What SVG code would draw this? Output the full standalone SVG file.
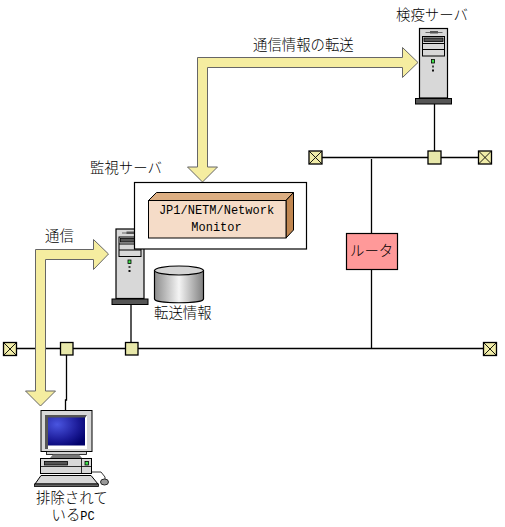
<svg xmlns="http://www.w3.org/2000/svg" width="505" height="527" viewBox="0 0 505 527">
<style>
.t{font-family:"Noto Sans CJK JP","Liberation Sans",sans-serif;font-size:14.4px;font-weight:300;fill:#000}
.m{font-family:"Liberation Mono",monospace;font-size:12px;fill:#000}
.w{fill:none;stroke:#000;stroke-width:1.3}
.nd{fill:#e8e8aa;stroke:#000;stroke-width:1.3}
.x{fill:#f0eca8;stroke:#000;stroke-width:1.3}
.x2{stroke:#000;stroke-width:.9;fill:none}
.arrow{fill:#f5eda0;stroke:#666;stroke-width:1;stroke-linejoin:miter}
</style>
<defs>
<g id="srv">
<rect x="0" y="0" width="28" height="69.5" fill="#d8d8d8" stroke="#000" stroke-width="1.2"/>
<rect x="-4" y="70" width="36" height="5.5" fill="#555" stroke="#000" stroke-width="1"/>
<path d="M6 4H23" stroke="#666" stroke-width="1"/><rect x="10.500" y="2.500" width="8" height="2.500" fill="#555"/>
<rect x="3" y="8" width="22" height="19.500" fill="#d8d8d8" stroke="#000" stroke-width="1"/>
<path d="M3 15H25M3 21H25" stroke="#000" stroke-width="1"/>
<rect x="4.500" y="9.500" width="19" height="3.500" fill="#555" stroke="#000" stroke-width=".8"/>
<rect x="12" y="31" width="3" height="3.500" fill="#3ee04a" stroke="#000" stroke-width=".8"/>
<rect x="12.500" y="37" width="2" height="2" fill="#444"/><rect x="12.500" y="41" width="2" height="2" fill="#111"/>
</g>
<g id="term"><rect x="0" y="0" width="13" height="13" class="x"/><path d="M0 0L13 13M13 0L0 13" class="x2"/></g>
<radialGradient id="scr" cx=".25" cy=".25" r=".9"><stop offset="0" stop-color="#4a55e0"/><stop offset=".6" stop-color="#1e1e9c"/><stop offset="1" stop-color="#00006a"/></radialGradient>
<linearGradient id="cyl"><stop offset="0" stop-color="#8c8c8c"/><stop offset=".5" stop-color="#f4f4f4"/><stop offset="1" stop-color="#808080"/></linearGradient>
</defs>

<g id="connectors">
<path class="w" d="M316 157.500H484M434.500 104V152M371.500 159V233M371.500 269V348.500M10 348.500H490M131 304V343M66.500 355V400H65.500V410"/>
</g>

<g id="bus-nodes">
<use href="#term" x="309" y="151"/>
<rect class="nd" x="428" y="151" width="13" height="13"/>
<use href="#term" x="478.500" y="151"/>
<use href="#term" x="3.500" y="342.500"/>
<rect class="nd" x="60.500" y="342.500" width="12.500" height="12.500"/>
<rect class="nd" x="125.500" y="342.500" width="12.500" height="12.500"/>
<use href="#term" x="483.500" y="342.500"/>
</g>

<g id="router">
<rect x="346.500" y="233.500" width="51" height="36" fill="#ff9999" stroke="#000" stroke-width="1.2"/>
<text class="t" x="350" y="256">ルータ</text>
</g>

<g id="quarantine-server">
<use href="#srv" x="419.500" y="28.500"/>
<text class="t" x="396" y="20">検疫サーバ</text>
</g>

<g id="monitor-server">
<use href="#srv" x="116" y="229"/>
<text class="t" x="90" y="173">監視サーバ</text>
</g>

<g id="network-monitor">
<rect x="134.500" y="182.500" width="172" height="66.500" fill="#fff" stroke="#000" stroke-width="1.2"/>
<path d="M148.500 200.500L156.500 192.500H293.500L286 200.500Z" fill="#dcae82" stroke="#000" stroke-width="1"/>
<path d="M286 200.500L293.500 192.500V230L286 238Z" fill="#c08650" stroke="#000" stroke-width="1"/>
<rect x="148.500" y="200.500" width="137.500" height="37.500" fill="#f5dcc8" stroke="#000" stroke-width="1"/>
<text class="m" x="216.500" y="214" text-anchor="middle">JP1/NETM/Network</text>
<text class="m" x="216.500" y="231" text-anchor="middle">Monitor</text>
</g>

<g id="storage">
<path d="M154.500 270.500V299C154.500 304 203.500 304 203.500 299V270.500Z" fill="url(#cyl)" stroke="#000" stroke-width="1.2"/>
<ellipse cx="179" cy="270.500" rx="24.500" ry="4.500" fill="#d4d4d4" stroke="#000" stroke-width="1.200"/>
<text class="t" x="154" y="318">転送情報</text>
</g>

<g id="pc">
<rect x="41" y="410.500" width="51" height="41" fill="#d8d8d8" stroke="#000" stroke-width="1"/>
<rect x="45" y="415" width="42" height="34" fill="#fff"/>
<path d="M45 415H87L85 418H48V449H45Z" fill="#555"/>
<rect x="48" y="417.500" width="37" height="28" fill="url(#scr)"/>
<rect x="46.500" y="451.500" width="40" height="3" fill="#d0d0d0" stroke="#000" stroke-width=".8"/>
<path d="M53 454.500H79L82 458H50Z" fill="#777"/>
<rect x="40.500" y="458.500" width="51" height="15" fill="#d8d8d8" stroke="#000" stroke-width="1"/>
<path d="M40.500 466.500H91.500M81.500 458.500V473.500" stroke="#000" stroke-width=".8"/>
<rect x="44.500" y="461.500" width="23" height="3.500" fill="#555" stroke="#000" stroke-width=".8"/>
<rect x="85" y="461.500" width="3.500" height="3.500" fill="#3ee04a" stroke="#000" stroke-width=".8"/>
<path d="M41 475.500H91L98 484H35Z" fill="#d8d8d8" stroke="#000" stroke-width="1"/>
<rect x="34.500" y="484" width="64" height="2.500" fill="#666" stroke="#000" stroke-width=".8"/>
<path d="M92 472H101L105 477V479" fill="none" stroke="#000" stroke-width=".8"/>
<ellipse cx="104.500" cy="482" rx="4" ry="3" fill="#999" stroke="#000" stroke-width=".8"/>
<text class="t"><tspan x="36" y="503">排除されて</tspan><tspan x="51.500" y="519.500">いる</tspan><tspan style="font-family:'Liberation Mono',monospace;font-size:12px">PC</tspan></text>
</g>

<g id="arrow-transfer">
<path class="arrow" d="M197.500 57.500H402.500V47.500L418 62.500L402.500 77.500V67.500H207.500V167H217.500L202.500 182L187.500 167H197.500Z"/>
<text class="t" x="253" y="50">通信情報の転送</text>
</g>

<g id="arrow-comm">
<path class="arrow" d="M35.500 249.500H93.500V239.500L108.500 254L93.500 269.500V259.500H45.500V391H55.500L40.500 406L25.500 391H35.500Z"/>
<text class="t" x="45" y="241">通信</text>
</g>
</svg>
